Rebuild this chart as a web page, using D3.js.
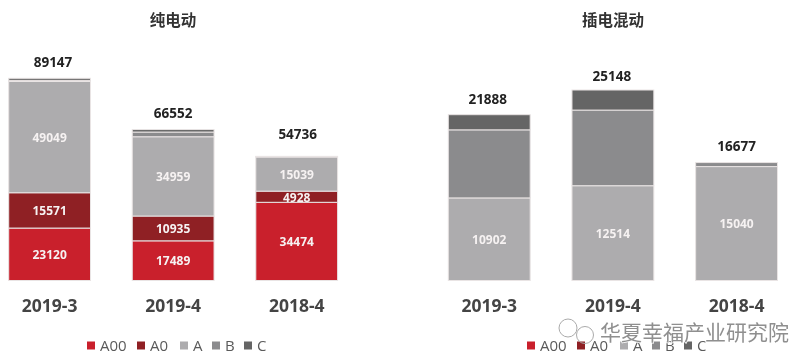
<!DOCTYPE html>
<html>
<head>
<meta charset="utf-8">
<script src="https://cdn.jsdelivr.net/npm/d3@7"></script>
<style>
html, body { margin: 0; padding: 0; background: #fff; }
svg { display: block; filter: blur(0.45px); }
text { font-family: "Open Sans", "Noto Sans CJK SC", sans-serif; }
</style>
</head>
<body>
<svg id="chart" width="794" height="364"></svg>
<script>
const segments = ["A00", "A0", "A", "B", "C"];
const colors = ["#c9202c", "#8f2024", "#adacae", "#8b8b8d", "#656565"];
const months = ["2019-3", "2019-4", "2018-4"];

// 纯电动 (B and C carry no printed label)
const bevA00 = [23120, 17489, 34474];
const bevA0 = [15571, 10935, 4928];
const bevA = [49049, 34959, 15039];
const bevB = [500, 2069, 295];
const bevC = [907, 1100, 0];
const bevTotal = [89147, 66552, 54736];

// 插电混动
const phevA00 = [0, 0, 0];
const phevA0 = [0, 0, 0];
const phevA = [10902, 12514, 15040];
const phevB = [8986, 9984, 530];
const phevC = [2000, 2650, 0];
const phevTotal = [21888, 25148, 16677];

const svg = d3.select("#chart");

panel({ title: "纯电动", titleX: 173, x0: 8.7, x1: 337.6, legendX: 87, yMax: 89147, yTop: 78.3,
    series: [bevA00, bevA0, bevA, bevB, bevC], totals: bevTotal, labelled: [0, 1, 2],
    totalDx: [3.4, 0, 1], totalGap: [11.5, 12, 17] });
panel({ title: "插电混动", titleX: 613, x0: 448.3, x1: 777.5, legendX: 527, yMax: 25148, yTop: 90,
    series: [phevA00, phevA0, phevA, phevB, phevC], totals: phevTotal, labelled: [2],
    totalDx: [-1.5, -1, 0], totalGap: [11, 9.5, 11.5] });
watermark();

////------------------------------------------------------------------------------------------------
function panel({ title, titleX, x0, x1, legendX, yMax, yTop, series, totals, labelled, totalDx, totalGap }) {
    const baseY = 280.5;
    const x = d3.scaleBand().domain(months).range([x0, x1]).paddingInner(0.338);
    const y = d3.scaleLinear().domain([0, yMax]).range([baseY, yTop]);
    const g = svg.append("g");

    const rows = months.map((m, i) => {
        const row = { month: m };
        segments.forEach((s, k) => row[s] = series[k][i]);
        return row;
    });
    const stacked = d3.stack().keys(segments)(rows);

    stacked.forEach((layer, k) => {
        const lg = g.append("g");
        lg.selectAll("rect").data(layer).join("rect")
            .attr("x", d => x(d.data.month))
            .attr("y", d => y(d[1]))
            .attr("width", x.bandwidth())
            .attr("height", d => Math.max(0, y(d[0]) - y(d[1])))
            .attr("fill", colors[k])
            .attr("stroke", "#e9e4e4")
            .attr("stroke-width", d => d[1] > d[0] ? 1 : 0);
        if (labelled.includes(k)) {
            lg.selectAll("text").data(layer).join("text")
                .attr("x", d => x(d.data.month) + x.bandwidth() / 2)
                .attr("y", d => y((d[0] + d[1]) / 2) + 0.5)
                .attr("dy", "0.36em")
                .attr("text-anchor", "middle")
                .attr("fill", "#f6f2f2")
                .attr("font-size", 12)
                .attr("font-weight", 700)
                .text(d => d[1] - d[0]);
        }
    });

    // totals sit above the drawn stack, the printed total can differ from the stack height
    g.selectAll(".total").data(months).join("text").attr("class", "total")
        .attr("x", (m, i) => x(m) + x.bandwidth() / 2 + totalDx[i])
        .attr("y", (m, i) => y(d3.sum(series, s => s[i])) - totalGap[i])
        .attr("text-anchor", "middle")
        .attr("fill", "#222")
        .attr("font-size", 13.5)
        .attr("font-weight", 700)
        .text((m, i) => totals[i]);

    const axis = g.append("g").attr("transform", `translate(0,${baseY})`)
        .call(d3.axisBottom(x).tickSize(0).tickPadding(19));
    axis.select(".domain").remove();
    axis.selectAll("text")
        .attr("fill", "#444")
        .attr("font-size", 17.5)
        .attr("font-weight", 700)
        .style("font-family", '"Open Sans", sans-serif');

    g.append("text")
        .attr("x", titleX)
        .attr("y", 25.5)
        .attr("text-anchor", "middle")
        .attr("fill", "#333")
        .attr("font-size", 15.5)
        .attr("font-weight", 700)
        .style("font-family", '"Noto Sans CJK SC", sans-serif')
        .text(title);

    const steps = [0, 50, 93, 125, 157];
    const leg = g.append("g").attr("transform", `translate(${legendX},345.5)`);
    const item = leg.selectAll("g").data(segments).join("g")
        .attr("transform", (d, i) => `translate(${steps[i]},0)`);
    item.append("rect").attr("y", -4).attr("width", 8).attr("height", 8)
        .attr("fill", (d, i) => colors[i]);
    item.append("text").attr("x", 13).attr("dy", "0.36em")
        .attr("fill", "#5a5a5a").attr("font-size", 15).text(d => d);
}

function watermark() {
    const g = svg.append("g");
    g.append("text")
        .attr("x", 600).attr("y", 339.5)
        .attr("fill", "#8f8f8f")
        .attr("stroke", "#fff")
        .attr("stroke-width", 1.5)
        .attr("paint-order", "stroke")
        .attr("font-size", 21)
        .style("font-family", '"Noto Sans CJK SC", sans-serif')
        .text("华夏幸福产业研究院");
    [[568, 328, 9], [585, 335, 8.5]].forEach(([cx, cy, r]) => {
        g.append("circle").attr("cx", cx).attr("cy", cy).attr("r", r)
            .attr("fill", "none").attr("stroke", "#aaa").attr("stroke-width", 1);
    });
}
</script>
</body>
</html>
